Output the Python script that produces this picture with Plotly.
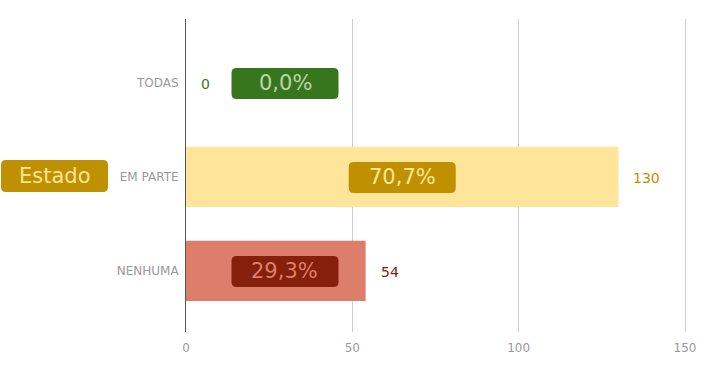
import plotly.graph_objects as go

categories = ["TODAS", "EM PARTE", "NENHUMA"]
values = [0, 130, 54]
pct_labels = ["0,0%", "70,7%", "29,3%"]
x_ticks = [0, 50, 100, 150]
title_label = "Estado"

bar_colors = ["#38761D", "#FFE599", "#DD7E6B"]
box_colors = ["#38761D", "#BF9000", "#85200C"]
box_text_colors = ["#B6D7A8", "#FFE599", "#DD7E6B"]
value_colors = ["#38761D", "#BF9000", "#85200C"]

FONT = "DejaVu Sans, Verdana, sans-serif"
W, H = 705, 375
ML, MR, MT, MB = 186, 18, 19, 43
X_MAX = 150.6
PX_PER_UNIT = (W - ML - MR) / X_MAX
MIN_BOX_CENTER_PX = 99


def rounded_rect(w, h, r, dx=0, dy=0):
    x0, x1 = -w / 2 + dx, w / 2 + dx
    y0, y1 = -h / 2 + dy, h / 2 + dy
    return (f"M {x0+r},{y0} L {x1-r},{y0} Q {x1},{y0} {x1},{y0+r} "
            f"L {x1},{y1-r} Q {x1},{y1} {x1-r},{y1} L {x0+r},{y1} "
            f"Q {x0},{y1} {x0},{y1-r} L {x0},{y0+r} Q {x0},{y0} {x0+r},{y0} Z")


fig = go.Figure()
fig.add_trace(go.Bar(
    y=categories, x=values, orientation="h",
    marker=dict(color=bar_colors, line=dict(width=0)),
    width=0.64, hoverinfo="skip", showlegend=False,
))

shapes = []
annotations = []
BOX_W, BOX_H, BOX_R = 107, 31, 5
for cat, v, lab, bc, tc, vc in zip(categories, values, pct_labels, box_colors, box_text_colors, value_colors):
    center = v / 2
    dx = max(0, MIN_BOX_CENTER_PX - center * PX_PER_UNIT)
    shapes.append(dict(
        type="path", xref="x", yref="y", xsizemode="pixel", ysizemode="pixel",
        xanchor=center, yanchor=cat,
        path=rounded_rect(BOX_W, BOX_H, BOX_R, dx, -0.5),
        fillcolor=bc, line=dict(width=0), layer="above",
    ))
    annotations.append(dict(
        x=center, y=cat, xref="x", yref="y", text=lab, showarrow=False,
        xshift=dx, yshift=0, font=dict(family=FONT, size=21, color=tc),
        xanchor="center", yanchor="middle",
    ))
    annotations.append(dict(
        x=v, y=cat, xref="x", yref="y", text=str(v), showarrow=False,
        xshift=13, yshift=-1, font=dict(family=FONT, size=14, color=vc),
        xanchor="left", yanchor="middle",
    ))

# "Estado" label box (outside the plot area, paper coordinates)
est_x = (54.5 - ML) / (W - ML - MR)
shapes.append(dict(
    type="path", xref="paper", yref="paper", xsizemode="pixel", ysizemode="pixel",
    xanchor=est_x, yanchor=0.5,
    path=rounded_rect(107, 32, 5, 0, -0.5),
    fillcolor="#BF9000", line=dict(width=0), layer="above",
))
annotations.append(dict(
    x=est_x, y=0.5, xref="paper", yref="paper", text=title_label, showarrow=False,
    yshift=0, font=dict(family=FONT, size=21, color="#FFE599"),
    xanchor="center", yanchor="middle",
))

fig.update_layout(
    width=W, height=H,
    margin=dict(l=ML, r=MR, t=MT, b=MB, autoexpand=False),
    paper_bgcolor="white", plot_bgcolor="white",
    font=dict(family=FONT, size=12, color="#999999"),
    shapes=shapes, annotations=annotations,
    xaxis=dict(
        range=[0, X_MAX], tickvals=x_ticks, ticktext=[str(t) for t in x_ticks],
        showgrid=True, gridcolor="#D0D0D0", gridwidth=1,
        zeroline=False, showline=False, ticks="", ticklabelstandoff=7,
        tickfont=dict(family=FONT, size=12, color="#999999"), fixedrange=True,
    ),
    yaxis=dict(
        type="category", categoryorder="array", categoryarray=categories,
        range=[2.65, -0.68], showgrid=False, zeroline=False,
        showline=True, linecolor="#555555", linewidth=1, ticks="",
        ticklabelstandoff=4,
        tickfont=dict(family=FONT, size=12, color="#999999"), fixedrange=True,
    ),
)

fig.write_html("out.html", config={"displayModeBar": False},
               post_script="document.body.style.margin='0';")
